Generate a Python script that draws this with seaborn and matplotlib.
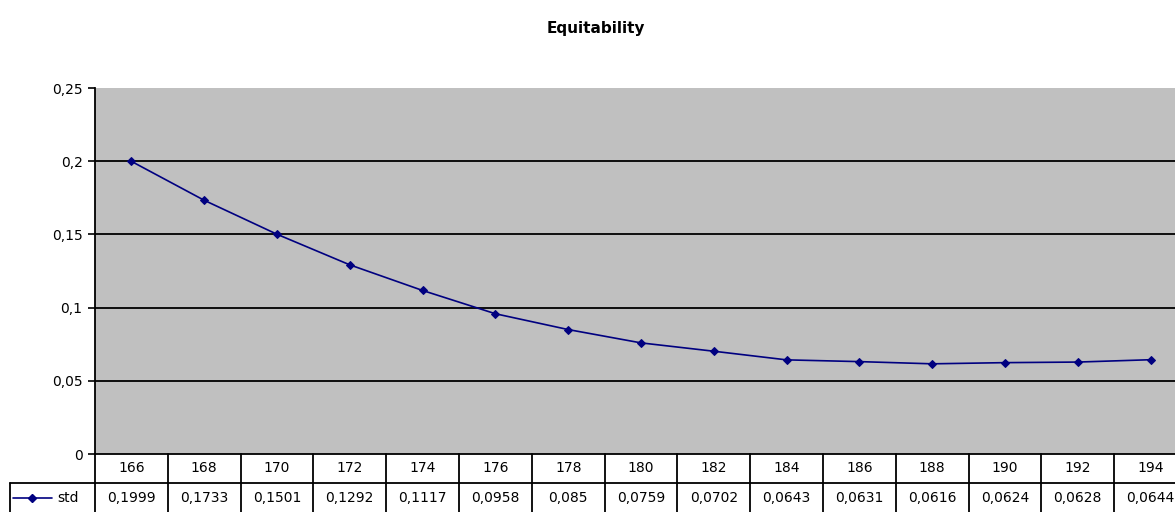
import numpy as np
import pandas as pd
import seaborn as sns
import matplotlib
matplotlib.use("Agg")
import matplotlib.pyplot as plt
from matplotlib.lines import Line2D

# Equitability standard deviation per size class
categories = [166, 168, 170, 172, 174, 176, 178, 180, 182, 184, 186, 188, 190, 192, 194]
std_values = [0.1999, 0.1733, 0.1501, 0.1292, 0.1117, 0.0958, 0.085, 0.0759,
              0.0702, 0.0643, 0.0631, 0.0616, 0.0624, 0.0628, 0.0644]
y_ticks = [0, 0.05, 0.1, 0.15, 0.2, 0.25]
y_tick_labels = ["0", "0,05", "0,1", "0,15", "0,2", "0,25"]
series_name = "std"

sns.set_theme(style="white")
plt.rcParams["font.family"] = ["DejaVu Sans"]

W, H = 1175, 512
fig = plt.figure(figsize=(W / 100, H / 100), dpi=100)
fig.patch.set_facecolor("white")

# plot area in pixels
px_left, px_right, px_top, px_bottom = 95, 1187, 88, 454
ax = fig.add_axes([px_left / W, 1 - px_bottom / H,
                   (px_right - px_left) / W, (px_bottom - px_top) / H])
ax.set_facecolor("#C0C0C0")

# interior major gridlines
for yv in y_ticks[1:-1]:
    ax.axhline(yv, color="black", linewidth=1.3, zorder=1)

df = pd.DataFrame({"pos": np.arange(len(categories)), "std": std_values})
navy = "#000080"
sns.lineplot(data=df, x="pos", y="std", ax=ax, color=navy, linewidth=1.2,
             marker="D", markersize=4.5, markeredgecolor=navy, markerfacecolor=navy,
             zorder=3)

ax.set_xlim(-0.5, len(categories) - 0.5)
ax.set_ylim(0, 0.25)
ax.set_yticks(y_ticks)
ax.set_yticklabels(y_tick_labels, fontsize=10)
ax.set_xticks([])
ax.set_xlabel("")
ax.set_ylabel("")
ax.grid(False)
ax.tick_params(axis="y", direction="out", length=5, width=1.2, color="black",
               left=True, pad=4, labelcolor="black")
for side in ["top", "right", "bottom"]:
    ax.spines[side].set_visible(False)
ax.spines["left"].set_color("black")
ax.spines["left"].set_linewidth(1.3)

fig.text(596 / W, 1 - 28 / H, "Equitability", ha="center", va="center",
         fontsize=11, fontweight="bold", color="black")

# data table under the plot area
ax_h = px_bottom - px_top
row_h = 29 / ax_h
trans = ax.get_xaxis_transform()
n = len(categories)
lw = 1.3
kw = dict(color="black", linewidth=lw, clip_on=False, transform=trans)

# horizontal rules
ax.add_line(Line2D([-0.5, n - 0.5], [0, 0], **kw))
ax.add_line(Line2D([-0.5, n - 0.5], [-row_h, -row_h], **kw))

# vertical rules between columns
for i in range(n + 1):
    x = i - 0.5
    ax.add_line(Line2D([x, x], [0, -2.2 * row_h], **kw))

for i, (c, v) in enumerate(zip(categories, std_values)):
    ax.text(i, -row_h / 2, str(c), transform=trans, ha="center", va="center",
            fontsize=10, color="black", clip_on=False)
    ax.text(i, -1.5 * row_h, f"{v:g}".replace(".", ","), transform=trans,
            ha="center", va="center", fontsize=10, color="black", clip_on=False)

# legend key cell on the left of the value row
ptrans = ax.transAxes
ax_w = px_right - px_left
x0 = (10 - px_left) / ax_w
kwa = dict(color="black", linewidth=lw, clip_on=False, transform=ptrans)
ax.add_line(Line2D([x0, 0], [-row_h, -row_h], **kwa))
ax.add_line(Line2D([x0, x0], [-row_h, -2.2 * row_h], **kwa))
xk0 = (13 - px_left) / ax_w
xk1 = (52 - px_left) / ax_w
ax.add_line(Line2D([xk0, xk1], [-1.5 * row_h] * 2, color=navy, linewidth=1.2,
                   clip_on=False, transform=ptrans))
ax.add_line(Line2D([(xk0 + xk1) / 2], [-1.5 * row_h], color=navy, marker="D",
                   markersize=4.5, linestyle="none", clip_on=False, transform=ptrans))
ax.text((57 - px_left) / ax_w, -1.5 * row_h, series_name, transform=ptrans,
        ha="left", va="center", fontsize=10, color="black", clip_on=False)

fig.savefig("out.png", dpi=100)
